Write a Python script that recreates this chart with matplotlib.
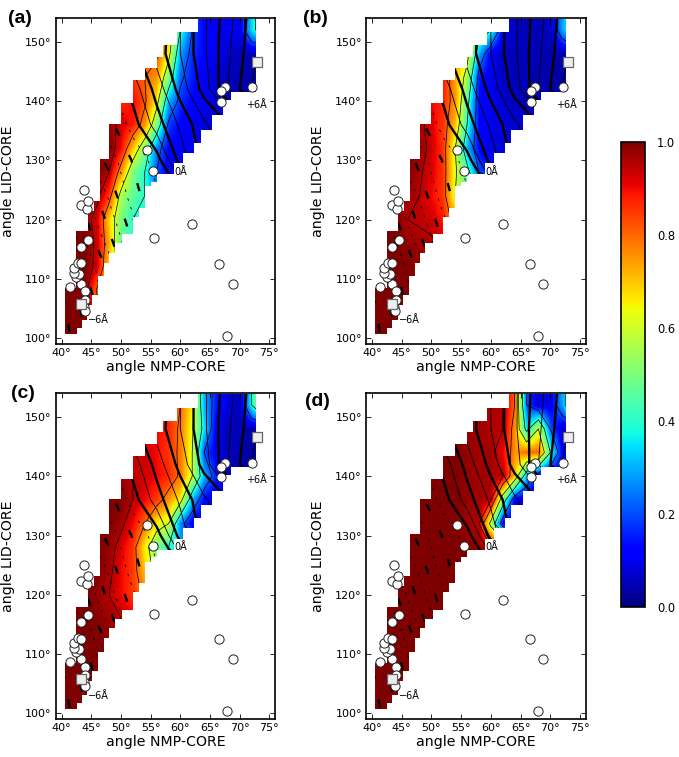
"""Four panels of a jet colour field over the NMP/LID angle plane, with markers and contours."""
import matplotlib

matplotlib.use("Agg")

import matplotlib.pyplot as plt
import numpy as np
from matplotlib.patches import Polygon

WIDTH, HEIGHT = 679, 757

# colour field grid (angles, degrees)
grid_x = [40, 42, 44, 46, 48, 50, 52, 54, 56, 58, 60, 62, 64, 66, 68, 70, 72, 74]
grid_y = [100, 104, 108, 112, 116, 120, 124, 128, 132, 136, 140, 144, 148, 152, 156]

field_a = [
    [1, 1, 1, .98, .9, .8, .7, .6, .5, .4, .3, .3, .3, .3, .3, .3, .3, .3],
    [1, 1, .99, .9, .85, .7, .6, .5, .4, .3, .3, .3, .3, .3, .3, .3, .3, .3],
    [1, 1, .98, .78, .7, .6, .5, .4, .4, .3, .3, .3, .3, .3, .3, .3, .3, .3],
    [1, 1, 1, .92, .68, .55, .45, .4, .4, .3, .3, .3, .3, .3, .3, .3, .3, .3],
    [1, 1, 1, .93, .72, .46, .42, .4, .35, .3, .3, .3, .3, .3, .3, .3, .3, .3],
    [1, 1, .98, .92, .68, .5, .4, .35, .3, .3, .3, .3, .3, .3, .3, .3, .3, .3],
    [1, 1, 1, .97, .85, .55, .47, .4, .3, .25, .2, .2, .2, .2, .2, .2, .2, .2],
    [1, 1, 1, 1, .95, .75, .5, .4, .2, .1, .1, .1, .1, .1, .1, .1, .1, .1],
    [1, 1, 1, 1, 1, .9, .7, .5, .25, .12, .1, .1, .1, .1, .1, .1, .1, .1],
    [1, 1, 1, 1, .98, .93, .88, .75, .5, .18, .12, .1, .08, .08, .07, .07, .07, .07],
    [.9, .9, .9, .9, .88, .86, .9, .82, .65, .3, .17, .12, .1, .08, .05, .05, .04, .04],
    [.85, .85, .85, .85, .85, .85, .85, .8, .75, .5, .22, .15, .1, .08, .05, .04, .03, .03],
    [.85, .85, .85, .85, .85, .85, .85, .82, .82, .65, .28, .17, .12, .1, .07, .05, .05, .05],
    [.85, .85, .85, .85, .85, .85, .85, .85, .8, .7, .4, .2, .12, .1, .1, .1, .35, .5],
    [.85, .85, .85, .85, .85, .85, .85, .85, .8, .7, .4, .2, .12, .1, .1, .1, .35, .5],
]
field_b = [
    [1, 1, 1, 1, .98, .95, .9, .85, .8, .8, .8, .8, .8, .8, .8, .8, .8, .8],
    [1, 1, 1, 1, .98, .95, .9, .85, .8, .8, .8, .8, .8, .8, .8, .8, .8, .8],
    [1, 1, 1, 1, .98, .95, .9, .85, .8, .8, .8, .8, .8, .8, .8, .8, .8, .8],
    [1, 1, 1, 1, .98, .95, .9, .85, .8, .8, .8, .8, .8, .8, .8, .8, .8, .8],
    [1, 1, 1, .98, .97, .96, .93, .85, .8, .7, .7, .7, .7, .7, .7, .7, .7, .7],
    [1, 1, 1, .95, .94, .93, .88, .75, .65, .6, .6, .6, .6, .6, .6, .6, .6, .6],
    [1, 1, 1, .97, .95, .9, .85, .6, .45, .4, .4, .4, .4, .4, .4, .4, .4, .4],
    [1, 1, 1, 1, .96, .92, .85, .62, .45, .2, .15, .15, .15, .15, .15, .15, .15, .15],
    [1, 1, 1, 1, .98, .93, .85, .6, .3, .12, .08, .08, .08, .08, .08, .08, .08, .08],
    [1, 1, 1, 1, .97, .92, .85, .7, .4, .12, .1, .08, .07, .07, .06, .06, .05, .05],
    [.95, .95, .95, .95, .93, .9, .87, .75, .45, .12, .1, .07, .06, .05, .05, .04, .04, .04],
    [.88, .88, .88, .88, .88, .88, .88, .73, .55, .15, .1, .06, .05, .05, .04, .04, .03, .03],
    [.8, .8, .8, .8, .8, .8, .8, .75, .65, .3, .1, .06, .05, .05, .05, .04, .04, .04],
    [.8, .8, .8, .8, .8, .8, .8, .75, .65, .5, .4, .1, .06, .05, .05, .06, .3, .45],
    [.8, .8, .8, .8, .8, .8, .8, .75, .65, .5, .4, .1, .06, .05, .05, .06, .3, .45],
]
field_c = [
    [1, 1, 1, 1, 1, 1, 1, 1, .95, .95, .95, .95, .95, .95, .95, .95, .95, .95],
    [1, 1, 1, 1, 1, 1, 1, 1, .95, .95, .95, .95, .95, .95, .95, .95, .95, .95],
    [1, 1, 1, 1, 1, 1, .98, .95, .95, .95, .95, .95, .95, .95, .95, .95, .95, .95],
    [1, 1, 1, 1, .99, .98, .97, .95, .9, .9, .9, .9, .9, .9, .9, .9, .9, .9],
    [1, 1, 1, .99, .97, .95, .92, .9, .85, .85, .85, .85, .85, .85, .85, .85, .85, .85],
    [1, 1, 1, .98, .95, .9, .85, .78, .7, .7, .7, .7, .7, .7, .7, .7, .7, .7],
    [1, 1, 1, 1, .97, .9, .85, .7, .55, .5, .5, .5, .5, .5, .5, .5, .5, .5],
    [1, 1, 1, 1, .98, .92, .85, .65, .5, .4, .3, .3, .3, .3, .3, .3, .3, .3],
    [1, 1, 1, 1, 1, .97, .9, .8, .65, .6, .25, .1, .08, .08, .08, .08, .08, .08],
    [1, 1, 1, 1, 1, 1, .95, .9, .85, .75, .65, .3, .12, .08, .07, .07, .07, .07],
    [.97, .97, .97, .97, .97, .97, .95, .93, .9, .87, .78, .6, .3, .15, .05, .05, .04, .04],
    [.93, .93, .93, .93, .93, .93, .93, .93, .9, .85, .78, .6, .2, .1, .05, .04, .03, .03],
    [.9, .9, .9, .9, .9, .9, .9, .9, .9, .87, .78, .62, .35, .1, .05, .05, .04, .05],
    [.85, .85, .85, .85, .85, .85, .85, .85, .85, .85, .8, .65, .3, .15, .08, .05, .4, .65],
    [.85, .85, .85, .85, .85, .85, .85, .85, .85, .85, .8, .65, .3, .15, .08, .05, .4, .65],
]
field_d = [
    [1] * 18,
    [1] * 18,
    [1] * 18,
    [1] * 18,
    [1] * 18,
    [1] * 18,
    [1] * 18,
    [1, 1, 1, 1, 1, 1, 1, 1, .99, .98, .95, .9, .9, .9, .9, .9, .9, .9],
    [1, 1, 1, 1, 1, 1, 1, .99, .97, .95, .55, .1, .05, .05, .05, .05, .05, .05],
    [1, 1, 1, 1, 1, 1, 1, 1, .98, .97, .95, .5, .1, .07, .05, .05, .05, .05],
    [1, 1, 1, 1, 1, 1, 1, 1, .98, .97, .97, .95, .7, .3, .1, .05, .1, .1],
    [1, 1, 1, 1, 1, 1, 1, 1, .98, .97, .97, .9, .75, .8, .8, .4, .1, .08],
    [1, 1, 1, 1, 1, 1, 1, 1, .98, .97, .96, .95, .75, .35, .6, .2, .07, .05],
    [1, 1, 1, 1, 1, 1, 1, 1, .98, .97, .96, .95, .8, .2, .08, .1, .3, .7],
    [1, 1, 1, 1, 1, 1, 1, 1, .98, .97, .96, .95, .8, .2, .08, .1, .3, .7],
]

# second field: the contour lines that run across the band, in angstrom
line_x = [40, 44, 48, 52, 56, 60, 64, 68, 72, 76]
line_y = [100, 106, 112, 118, 124, 130, 136, 142, 148, 154]
line_values = [
    [-7.6, -6.0, -4.6, -3.2, -2.0, -1.0, 0.0, 1.0, 2.0, 3.0],
    [-7.2, -5.6, -4.0, -2.6, -1.4, -0.4, 0.6, 1.6, 2.6, 3.6],
    [-6.2, -5.0, -3.8, -2.3, -1.0, 0.0, 1.0, 2.0, 3.0, 4.0],
    [-5.7, -4.3, -3.0, -1.8, -1.0, -0.2, 0.8, 2.0, 3.0, 4.0],
    [-4.8, -3.6, -2.4, -1.2, -0.6, -0.1, 0.8, 2.0, 3.0, 4.0],
    [-3.7, -2.7, -1.8, -0.95, -0.25, 1.2, 2.2, 3.0, 4.0, 5.0],
    [-2.8, -2.0, -1.2, -0.25, 0.75, 1.6, 2.4, 3.0, 4.0, 5.0],
    [-2.4, -1.6, -0.7, 0.2, 1.2, 2.2, 3.2, 4.5, 5.5, 6.5],
    [-2.0, -1.2, -0.3, 0.8, 1.7, 2.5, 3.4, 4.4, 5.3, 6.2],
    [-1.5, -0.6, 0.2, 1.0, 1.6, 2.5, 3.4, 4.3, 5.2, 6.1],
]
thick_levels = [-7, -6, -5, -4, -3, -2, -1, 0, 1, 2, 3, 4, 5, 6]
thin_levels = [-5.5, -4.5, -3.5, -2.5, -1.5, -0.5, 0.5, 1.5, 2.5, 3.5, 4.5, 5.5]
field_levels = [0.2, 0.4, 0.6, 0.8, 0.95]

# staircase outline of the sampled region
left_x = [40.5, 42.5, 44.4, 45.4, 46.4, 48.0, 50.0, 52.0, 54.0, 56.0, 57.0, 59.4, 63.0]
left_top = [108.5, 118.0, 121.5, 123.2, 130.2, 136.1, 139.6, 143.5, 145.5, 147.5, 149.4, 151.6, 153.9]
right_x = [42.6, 43.4, 44.3, 45.2, 46.2, 47.2, 48.0, 49.0, 50.2, 52.0, 53.0, 54.0, 55.0, 56.0,
           59.0, 60.5, 62.3, 63.4, 65.4, 67.2, 68.5, 72.7]
right_top = [101.7, 103.1, 105.5, 107.2, 110.4, 112.7, 114.4, 116.0, 117.5, 120.5, 122.0, 125.6,
             126.4, 127.6, 129.5, 131.2, 132.9, 135.1, 137.6, 140.2, 141.5, 153.9]
region_bottom = 100.7

# structures
circle_x = [41.4, 43.3, 42.5, 43.0, 42.1, 42.0, 42.7, 43.3, 43.3, 44.5, 43.3, 44.2, 44.4, 43.7,
            44.0, 44.0, 43.7, 43.9, 54.3, 55.4, 55.6, 62.0, 66.5, 68.8, 67.9, 67.5, 66.8, 66.8, 72.1]
circle_y = [108.7, 109.2, 110.3, 110.8, 111.0, 111.9, 112.7, 112.6, 115.4, 116.6, 122.4, 121.8,
            123.2, 125.0, 107.9, 106.5, 105.3, 104.6, 131.7, 128.2, 116.8, 119.2, 112.5, 109.2,
            100.4, 142.3, 141.6, 139.8, 142.3]
square_x = [43.3, 73.0]
square_y = [105.8, 146.6]

note_texts = ["\u22126\u00c5", "0\u00c5", "+6\u00c5"]
note_x = [44.5, 59.0, 71.0]
note_y = [103.0, 128.0, 139.4]

x_ticks = [40, 45, 50, 55, 60, 65, 70, 75]
y_ticks = [100, 110, 120, 130, 140, 150]
cbar_ticks = [0.0, 0.2, 0.4, 0.6, 0.8, 1.0]

# panel: field, left, top, right, bottom of the axes in pixels, letter and where it goes
panels = [
    (field_a, 55.7, 18, 275.3, 344, "(a)", 8, 23),
    (field_b, 366, 18, 586, 344, "(b)", 303, 23),
    (field_c, 55.7, 393.3, 275.3, 719.3, "(c)", 11, 398),
    (field_d, 366, 393.3, 586, 719.3, "(d)", 305, 406),
]


def pixel_axes(fig, left, top, right, bottom):
    return fig.add_axes([left / WIDTH, 1 - bottom / HEIGHT, (right - left) / WIDTH, (bottom - top) / HEIGHT])


def region_polygon():
    # walk up the right side, then back down the left side
    points = [(left_x[0], region_bottom)]
    lower = region_bottom
    for x, top in zip(right_x, right_top):
        points += [(x, lower), (x, top)]
        lower = top
    upper = left_top[-1]
    for i in range(len(left_x) - 1, -1, -1):
        lower = left_top[i - 1] if i > 0 else region_bottom
        points += [(left_x[i], upper), (left_x[i], lower)]
        upper = lower
    return points


fig = plt.figure(figsize=(WIDTH / 100, HEIGHT / 100), dpi=100)
outline = region_polygon()
extent = [grid_x[0] - 1, grid_x[-1] + 1, grid_y[0] - 2, grid_y[-1] + 2]

for field, left, top, right, bottom, letter, letter_x, letter_y in panels:
    ax = pixel_axes(fig, left, top, right, bottom)
    clip = Polygon(outline, closed=True, transform=ax.transData, facecolor="none", edgecolor="none")
    ax.add_patch(clip)

    image = ax.imshow(field, origin="lower", extent=extent, aspect="auto", cmap="jet",
                      vmin=0, vmax=1, interpolation="bilinear")
    image.set_clip_path(clip)

    colour_lines = ax.contour(grid_x, grid_y, field, levels=field_levels, colors="k", linewidths=0.5)
    colour_lines.set_clip_path(clip)

    thin_styles = [(0, (3, 8)) if level < 0 else "solid" for level in thin_levels]
    thin = ax.contour(line_x, line_y, line_values, levels=thin_levels, colors="k",
                      linewidths=0.6, linestyles=thin_styles)
    thin.set_clip_path(clip)
    thick_styles = [(0, (3.5, 9)) if level < 0 else "solid" for level in thick_levels]
    thick = ax.contour(line_x, line_y, line_values, levels=thick_levels, colors="k",
                       linewidths=1.7, linestyles=thick_styles)
    thick.set_clip_path(clip)

    ax.scatter(circle_x, circle_y, s=44, facecolor="white", edgecolor="#222222", linewidth=0.7, zorder=5)
    ax.scatter(square_x, square_y, s=62, marker="s", facecolor="#eeeeee", edgecolor="#666666",
               linewidth=0.9, zorder=6, clip_on=False)
    for text, x, y in zip(note_texts, note_x, note_y):
        ax.text(x, y, text, fontsize=7, ha="left", va="center", zorder=7)

    ax.set_xlim(39, 76)
    ax.set_ylim(99, 154)
    ax.set_xticks(x_ticks, [f"{t}\u00b0" for t in x_ticks])
    ax.set_yticks(y_ticks, [f"{t}\u00b0" for t in y_ticks])
    ax.tick_params(direction="in", top=True, right=True, length=3.5, width=0.6, labelsize=8, pad=3)
    ax.set_xlabel("angle NMP-CORE", fontsize=10.2)
    ax.set_ylabel("angle LID-CORE", fontsize=10.2)
    ax.xaxis.set_label_coords(0.5, -0.048)
    ax.yaxis.set_label_coords(-0.187, 0.5)
    for spine in ax.spines.values():
        spine.set_linewidth(1.2)

    fig.text(letter_x / WIDTH, 1 - letter_y / HEIGHT, letter, fontsize=14, fontweight="bold",
             family="Liberation Sans", ha="left", va="baseline")

cax = pixel_axes(fig, 620.7, 142, 644.7, 606.7)
bar = fig.colorbar(image, cax=cax, ticks=cbar_ticks)
bar.ax.tick_params(length=0, labelsize=8.3, pad=9)
bar.outline.set_linewidth(1.2)

fig.savefig("out.png", dpi=100)
